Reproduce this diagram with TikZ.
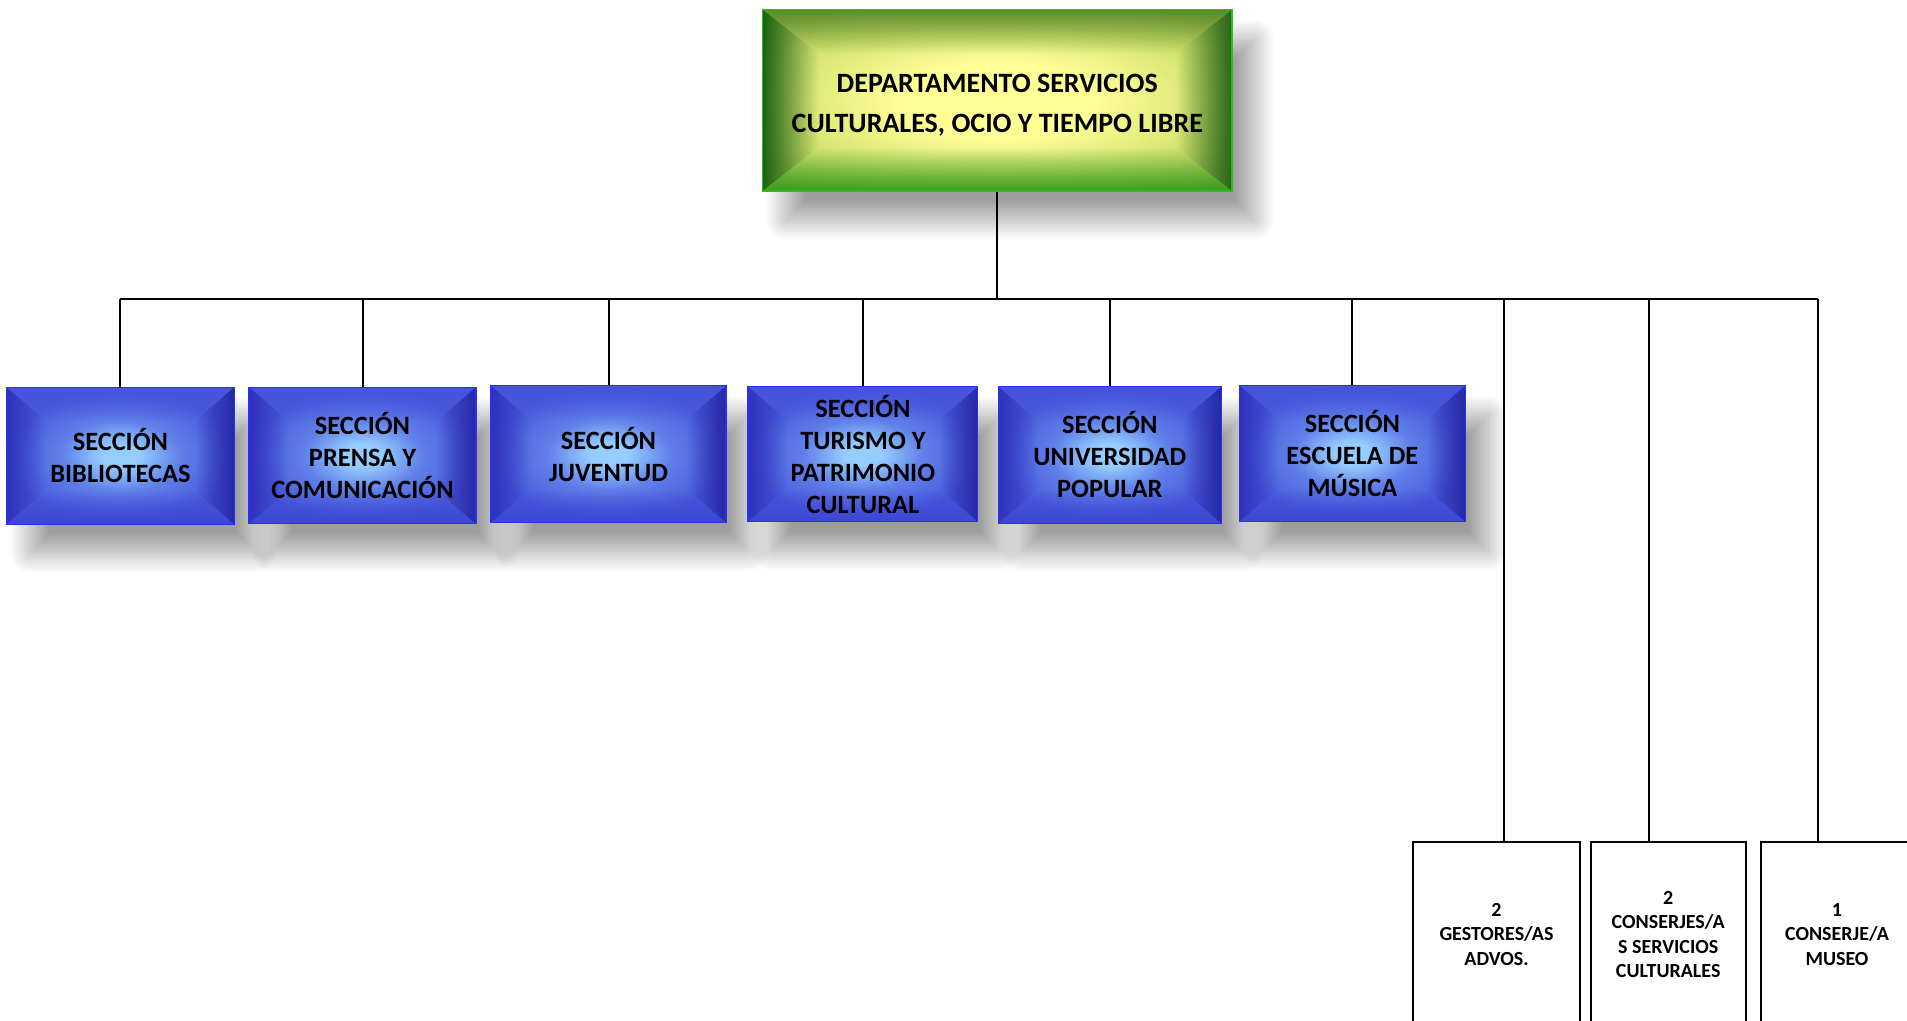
\documentclass[tikz,border=0pt]{standalone}
\usepackage{fontspec}
\setmainfont{Carlito}
\usetikzlibrary{shadows.blur,fadings}

% palette
\definecolor{gIn}{RGB}{255,255,150}
\definecolor{gMid}{RGB}{205,222,105}
\definecolor{gOut}{RGB}{110,155,50}
\definecolor{gTop}{RGB}{95,140,45}
\definecolor{gLeft}{RGB}{30,98,20}
\definecolor{gRight}{RGB}{38,102,24}
\definecolor{gBot}{RGB}{62,158,33}
\definecolor{gBorder}{RGB}{40,190,30}
\definecolor{bIn}{RGB}{150,205,255}
\definecolor{bMid}{RGB}{96,128,233}
\definecolor{bOut}{RGB}{72,88,218}
\definecolor{bTop}{RGB}{70,84,222}
\definecolor{bLeft}{RGB}{46,50,188}
\definecolor{bRight}{RGB}{38,40,165}
\definecolor{bBot}{RGB}{60,70,212}
\definecolor{bBorder}{RGB}{45,45,250}

% soft central glow
\pgfdeclareradialshading{glowG}{\pgfpoint{0bp}{0bp}}{color(0bp)=(gIn); color(10bp)=(gIn); color(26bp)=(gMid); color(40bp)=(gOut); color(50bp)=(gOut)}
\pgfdeclareradialshading{glowB}{\pgfpoint{0bp}{0bp}}{color(0bp)=(bIn); color(4bp)=(bIn); color(13bp)=(bMid); color(25bp)=(bOut); color(50bp)=(bOut)}

% opaque at the outer edge, vanishing towards the inside
\tikzfading[name=bevelfade, top color=transparent!0, middle color=transparent!20, bottom color=transparent!100]

% four bevelled faces along the edges of a box
% #1 top, #2 left, #3 right, #4 bottom colour, #5 horizontal depth, #6 vertical depth
\newcommand\bevelfaces[6]{%
  \coordinate (pNW) at (path picture bounding box.north west);
  \coordinate (pNE) at (path picture bounding box.north east);
  \coordinate (pSW) at (path picture bounding box.south west);
  \coordinate (pSE) at (path picture bounding box.south east);
  \fill[#1, path fading=bevelfade]
    (pNW) -- (pNE) -- ([xshift=-#5,yshift=-#6]pNE) -- ([xshift=#5,yshift=-#6]pNW) -- cycle;
  \fill[#4, path fading=bevelfade, fading angle=180]
    (pSW) -- (pSE) -- ([xshift=-#5,yshift=#6]pSE) -- ([xshift=#5,yshift=#6]pSW) -- cycle;
  \fill[#2, path fading=bevelfade, fading angle=90]
    (pNW) -- (pSW) -- ([xshift=#5,yshift=#6]pSW) -- ([xshift=#5,yshift=-#6]pNW) -- cycle;
  \fill[#3, path fading=bevelfade, fading angle=-90]
    (pNE) -- (pSE) -- ([xshift=-#5,yshift=#6]pSE) -- ([xshift=-#5,yshift=-#6]pNE) -- cycle;
}

\tikzset{
  link/.style={line width=1.5pt, black},
  softshadow/.style={blur shadow={shadow xshift=17pt, shadow yshift=-22pt,
      shadow blur radius=15pt, shadow blur steps=40, shadow opacity=38}},
  headbox/.style={rectangle, draw=gBorder, line width=1pt, shading=glowG,
    softshadow, align=center, inner sep=0pt, text height=51.5pt,
    font=\bfseries\fontsize{21pt}{30pt}\selectfont,
    path picture={\bevelfaces{gTop}{gLeft}{gRight}{gBot}{42pt}{33pt}}},
  secbox/.style={rectangle, draw=bBorder, line width=0.8pt, shading=glowB,
    softshadow, align=center, inner sep=0pt,
    minimum height=102.5pt,
    font=\bfseries\fontsize{19.8pt}{24pt}\selectfont,
    path picture={\bevelfaces{bTop}{bLeft}{bRight}{bBot}{29pt}{25pt}}},
  staffbox/.style={rectangle, draw=black, line width=1.5pt, fill=white,
    align=center, inner sep=0pt, minimum height=139.2pt,
    font=\bfseries\fontsize{15pt}{18.2pt}\selectfont},
}

\begin{document}
\begin{tikzpicture}[x=0.75pt,y=-0.75pt]
  \useasboundingbox (0,0) rectangle (1907,1021);
  \clip (0,0) rectangle (1907,1021);

  % department head
  \node[headbox, minimum width=352pt, minimum height=135.9pt] (dep) at (997.3,100.3)
    {DEPARTAMENTO SERVICIOS\\CULTURALES, OCIO Y TIEMPO LIBRE};

  % sections
  \node[secbox, minimum width=170.5pt]  (s1) at (120.4,455.7) {SECCIÓN\\BIBLIOTECAS};
  \node[secbox, minimum width=170.25pt] (s2) at (362.5,455.5) {SECCIÓN\\PRENSA Y\\COMUNICACIÓN};
  \node[secbox, minimum width=176.25pt] (s3) at (608.5,454.2) {SECCIÓN\\JUVENTUD};
  \node[secbox, minimum width=172.35pt, minimum height=101.2pt] (s4) at (862.9,454.2)
    {SECCIÓN\\TURISMO Y\\PATRIMONIO\\CULTURAL};
  \node[secbox, minimum width=166.9pt, minimum height=102.2pt] (s5) at (1109.8,454.9)
    {SECCIÓN\\UNIVERSIDAD\\POPULAR};
  \node[secbox, minimum width=169.65pt, minimum height=102.2pt] (s6) at (1352.4,453.6)
    {SECCIÓN\\ESCUELA DE\\MÚSICA};

  % staff posts
  \node[staffbox, minimum width=125.25pt] (p1) at (1496.5,934.4) {2\\GESTORES/AS\\ADVOS.};
  \node[staffbox, minimum width=116.4pt]  (p2) at (1668.2,934.4) {2\\CONSERJES/A\\S SERVICIOS\\CULTURALES};
  \node[staffbox, minimum width=114pt]    (p3) at (1837,934.4)   {1\\CONSERJE/A\\MUSEO};

  % distribution bar
  \coordinate (bar) at (997.3,299.2);
  \coordinate (barL) at (120.4,299.2);
  \coordinate (barR) at (1818.2,299.2);
  \coordinate (t1) at (1504.4,299.2);
  \coordinate (t2) at (1649.2,299.2);

  \draw[link] (dep.south) -- (bar);
  \draw[link] (barL) -- (barR);
  \foreach \s in {s1,s2,s3,s4,s5,s6}
    \draw[link] (\s.north |- bar) -- (\s.north);
  \draw[link] (t1) -- (t1 |- p1.north);
  \draw[link] (t2) -- (t2 |- p2.north);
  \draw[link] (barR) -- (barR |- p3.north);
\end{tikzpicture}
\end{document}
